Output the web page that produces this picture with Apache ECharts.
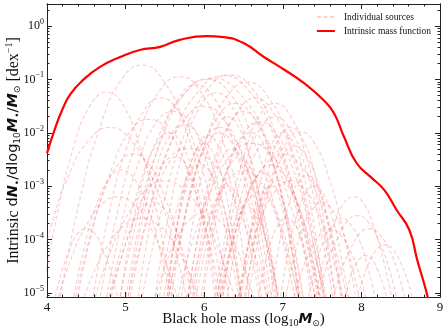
<!DOCTYPE html>
<html>
<head>
<meta charset="utf-8">
<script src="https://cdn.jsdelivr.net/npm/echarts@6/dist/echarts.min.js"></script>
<style>
  html, body { margin: 0; padding: 0; background: #fff; }
  #chart { width: 448px; height: 331px; }
</style>
</head>
<body>
<div id="chart"></div>
<script>
// intrinsic mass function, x = log10 M, y = log10 of dN/dlogM
var massX = [4.0, 4.1, 4.2, 4.3, 4.46, 4.67, 4.93, 5.18, 5.44, 5.69, 6.03, 6.25, 6.5, 6.76, 7.02, 7.27, 7.52, 7.65, 7.78, 7.94, 8.12, 8.29, 8.45, 8.61, 8.71, 8.82, 8.86];
var massLog = [-2.38, -1.93, -1.55, -1.27, -1.01, -0.77, -0.58, -0.45, -0.39, -0.26, -0.19, -0.21, -0.32, -0.58, -0.82, -1.07, -1.39, -1.63, -2.08, -2.57, -2.83, -3.07, -3.45, -3.82, -4.38, -4.94, -5.2];

// individual sources (x and log10 y per curve)
var srcX = [
  [3.91, 4.13, 4.34, 4.55, 4.76, 4.97, 5.18, 5.40, 5.61],
  [4.14, 4.41, 4.68, 4.94, 5.21, 5.48, 5.75, 6.01, 6.28],
  [4.65, 4.91, 5.17, 5.43, 5.69, 5.95, 6.21, 6.47, 6.73],
  [4.90, 5.18, 5.47, 5.75, 6.04, 6.33, 6.61, 6.90, 7.18],
  [5.00, 5.31, 5.62, 5.94, 6.25, 6.56, 6.88, 7.19, 7.50],
  [5.18, 5.47, 5.75, 6.04, 6.33, 6.62, 6.91, 7.19, 7.48],
  [5.52, 5.78, 6.03, 6.29, 6.55, 6.81, 7.07, 7.32, 7.58],
  [4.98, 5.21, 5.44, 5.67, 5.90, 6.13, 6.36, 6.59, 6.82],
  [4.75, 5.09, 5.42, 5.76, 6.10, 6.44, 6.78, 7.11, 7.45],
  [3.79, 4.04, 4.29, 4.55, 4.80, 5.05, 5.31, 5.56, 5.81],
  [4.36, 4.59, 4.83, 5.06, 5.30, 5.54, 5.77, 6.01, 6.24],
  [4.73, 4.95, 5.17, 5.38, 5.60, 5.82, 6.03, 6.25, 6.47],
  [5.03, 5.27, 5.51, 5.76, 6.00, 6.24, 6.49, 6.73, 6.98],
  [5.52, 5.74, 5.96, 6.18, 6.40, 6.62, 6.84, 7.06, 7.28],
  [5.87, 6.08, 6.29, 6.50, 6.71, 6.92, 7.13, 7.34, 7.55],
  [6.49, 6.67, 6.86, 7.04, 7.22, 7.40, 7.58, 7.77, 7.95],
  [6.14, 6.33, 6.52, 6.71, 6.90, 7.09, 7.28, 7.47, 7.66],
  [5.63, 5.87, 6.12, 6.36, 6.60, 6.84, 7.08, 7.33, 7.57],
  [4.76, 5.02, 5.28, 5.54, 5.80, 6.06, 6.32, 6.58, 6.84],
  [5.56, 5.72, 5.88, 6.04, 6.20, 6.36, 6.52, 6.68, 6.84],
  [6.15, 6.36, 6.57, 6.79, 7.00, 7.21, 7.43, 7.64, 7.85],
  [5.77, 5.96, 6.14, 6.32, 6.50, 6.68, 6.86, 7.04, 7.23],
  [6.19, 6.36, 6.52, 6.69, 6.85, 7.01, 7.18, 7.34, 7.51],
  [6.40, 6.58, 6.75, 6.93, 7.10, 7.27, 7.45, 7.62, 7.80],
  [4.57, 4.80, 5.04, 5.27, 5.50, 5.73, 5.97, 6.20, 6.43],
  [6.18, 6.31, 6.44, 6.57, 6.70, 6.83, 6.96, 7.09, 7.22],
  [6.83, 6.94, 7.06, 7.18, 7.30, 7.42, 7.54, 7.66, 7.77],
  [5.85, 5.96, 6.07, 6.19, 6.30, 6.41, 6.53, 6.64, 6.75],
  [7.01, 7.13, 7.25, 7.38, 7.50, 7.62, 7.75, 7.87, 8.00],
  [7.42, 7.55, 7.69, 7.82, 7.95, 8.08, 8.21, 8.35, 8.48],
  [7.61, 7.73, 7.86, 7.98, 8.10, 8.22, 8.35, 8.47, 8.59],
  [7.92, 8.01, 8.11, 8.20, 8.30, 8.40, 8.49, 8.59, 8.68],
  [7.39, 7.52, 7.65, 7.77, 7.90, 8.03, 8.15, 8.28, 8.41],
  [5.96, 6.12, 6.28, 6.44, 6.60, 6.76, 6.92, 7.08, 7.24],
  [5.77, 5.95, 6.13, 6.32, 6.50, 6.68, 6.87, 7.05, 7.23],
  [6.22, 6.36, 6.51, 6.65, 6.80, 6.95, 7.09, 7.24, 7.38],
  [5.46, 5.65, 5.83, 6.02, 6.20, 6.38, 6.57, 6.75, 6.94],
  [6.45, 6.59, 6.73, 6.86, 7.00, 7.14, 7.27, 7.41, 7.55],
  [5.94, 6.07, 6.20, 6.32, 6.45, 6.58, 6.70, 6.83, 6.96],
  [5.41, 5.54, 5.68, 5.81, 5.95, 6.09, 6.22, 6.36, 6.49],
  [4.10, 4.30, 4.50, 4.70, 4.90, 5.10, 5.30, 5.50, 5.70],
  [4.42, 4.61, 4.81, 5.00, 5.20, 5.40, 5.59, 5.79, 5.98],
  [4.07, 4.18, 4.29, 4.39, 4.50, 4.61, 4.71, 4.82, 4.93],
  [7.11, 7.23, 7.36, 7.48, 7.60, 7.72, 7.85, 7.97, 8.09],
  [5.33, 5.50, 5.66, 5.83, 6.00, 6.17, 6.34, 6.50, 6.67],
  [4.56, 4.78, 5.00, 5.23, 5.45, 5.67, 5.90, 6.12, 6.34],
  [5.76, 5.98, 6.20, 6.43, 6.65, 6.87, 7.10, 7.32, 7.54],
  [5.35, 5.55, 5.75, 5.95, 6.15, 6.35, 6.55, 6.75, 6.95],
  [5.01, 5.19, 5.38, 5.56, 5.75, 5.94, 6.12, 6.31, 6.49],
  [6.41, 6.54, 6.68, 6.81, 6.95, 7.09, 7.22, 7.36, 7.49],
  [6.54, 6.69, 6.84, 7.00, 7.15, 7.30, 7.46, 7.61, 7.76],
  [5.83, 5.96, 6.09, 6.22, 6.35, 6.48, 6.61, 6.74, 6.87],
  [5.14, 5.27, 5.40, 5.52, 5.65, 5.78, 5.90, 6.03, 6.16],
  [6.27, 6.39, 6.51, 6.63, 6.75, 6.87, 6.99, 7.11, 7.23],
  [6.95, 7.06, 7.17, 7.29, 7.40, 7.51, 7.63, 7.74, 7.86],
  [4.33, 4.53, 4.72, 4.91, 5.10, 5.29, 5.48, 5.68, 5.87],
  [4.31, 4.47, 4.63, 4.79, 4.95, 5.11, 5.27, 5.43, 5.60],
  [6.14, 6.24, 6.34, 6.45, 6.55, 6.65, 6.76, 6.86, 6.96],
  [7.29, 7.41, 7.52, 7.64, 7.75, 7.86, 7.98, 8.09, 8.21],
  [7.75, 7.83, 7.90, 7.98, 8.05, 8.13, 8.20, 8.28, 8.35],
  [5.51, 5.64, 5.78, 5.92, 6.05, 6.18, 6.32, 6.46, 6.59],
  [6.66, 6.76, 6.85, 6.95, 7.05, 7.15, 7.25, 7.34, 7.44],
  [4.78, 4.93, 5.07, 5.21, 5.35, 5.49, 5.63, 5.77, 5.92],
  [6.11, 6.31, 6.51, 6.70, 6.90, 7.10, 7.29, 7.49, 7.69],
  [5.69, 5.85, 6.00, 6.15, 6.30, 6.45, 6.60, 6.75, 6.91],
  [5.51, 5.63, 5.75, 5.88, 6.00, 6.12, 6.25, 6.37, 6.49],
  [6.51, 6.66, 6.81, 6.95, 7.10, 7.25, 7.40, 7.54, 7.69],
  [4.91, 5.07, 5.23, 5.39, 5.55, 5.71, 5.87, 6.03, 6.19],
  [6.43, 6.53, 6.64, 6.74, 6.85, 6.96, 7.06, 7.17, 7.28]
];
var srcLog = [
  [-5.3, -3.52, -2.26, -1.49, -1.24, -1.49, -2.26, -3.52, -5.3],
  [-5.3, -3.30, -1.87, -1.02, -0.73, -1.02, -1.87, -3.30, -5.3],
  [-5.3, -3.40, -2.04, -1.22, -0.95, -1.22, -2.04, -3.40, -5.3],
  [-5.3, -3.42, -2.08, -1.27, -1.00, -1.27, -2.08, -3.42, -5.3],
  [-5.3, -3.39, -2.02, -1.20, -0.93, -1.20, -2.02, -3.39, -5.3],
  [-5.3, -3.38, -2.02, -1.19, -0.92, -1.19, -2.02, -3.38, -5.3],
  [-5.3, -3.44, -2.11, -1.32, -1.05, -1.32, -2.11, -3.44, -5.3],
  [-5.3, -3.46, -2.15, -1.36, -1.10, -1.36, -2.15, -3.46, -5.3],
  [-5.3, -3.41, -2.06, -1.25, -0.98, -1.25, -2.06, -3.41, -5.3],
  [-5.3, -3.81, -2.75, -2.11, -1.90, -2.11, -2.75, -3.81, -5.3],
  [-5.3, -3.75, -2.64, -1.97, -1.75, -1.97, -2.64, -3.75, -5.3],
  [-5.3, -3.68, -2.53, -1.83, -1.60, -1.83, -2.53, -3.68, -5.3],
  [-5.3, -3.64, -2.45, -1.74, -1.50, -1.74, -2.45, -3.64, -5.3],
  [-5.3, -3.62, -2.41, -1.69, -1.45, -1.69, -2.41, -3.62, -5.3],
  [-5.3, -3.77, -2.68, -2.02, -1.80, -2.02, -2.68, -3.77, -5.3],
  [-5.3, -3.85, -2.81, -2.19, -1.98, -2.19, -2.81, -3.85, -5.3],
  [-5.3, -3.73, -2.60, -1.93, -1.70, -1.93, -2.60, -3.73, -5.3],
  [-5.3, -3.94, -2.98, -2.39, -2.20, -2.39, -2.98, -3.94, -5.3],
  [-5.3, -3.99, -3.05, -2.49, -2.30, -2.49, -3.05, -3.99, -5.3],
  [-5.3, -3.86, -2.83, -2.21, -2.00, -2.21, -2.83, -3.86, -5.3],
  [-5.3, -4.03, -3.13, -2.58, -2.40, -2.58, -3.13, -4.03, -5.3],
  [-5.3, -4.16, -3.35, -2.86, -2.70, -2.86, -3.35, -4.16, -5.3],
  [-5.3, -4.12, -3.28, -2.77, -2.60, -2.77, -3.28, -4.12, -5.3],
  [-5.3, -4.25, -3.50, -3.05, -2.90, -3.05, -3.50, -4.25, -5.3],
  [-5.3, -4.25, -3.50, -3.05, -2.90, -3.05, -3.50, -4.25, -5.3],
  [-5.3, -4.34, -3.65, -3.24, -3.10, -3.24, -3.65, -4.34, -5.3],
  [-5.3, -4.21, -3.43, -2.96, -2.80, -2.96, -3.43, -4.21, -5.3],
  [-5.3, -4.29, -3.58, -3.14, -3.00, -3.14, -3.58, -4.29, -5.3],
  [-5.3, -4.43, -3.80, -3.43, -3.30, -3.43, -3.80, -4.43, -5.3],
  [-5.3, -4.53, -3.99, -3.66, -3.55, -3.66, -3.99, -4.53, -5.3],
  [-5.3, -4.64, -4.18, -3.89, -3.80, -3.89, -4.18, -4.64, -5.3],
  [-5.3, -4.78, -4.40, -4.18, -4.10, -4.18, -4.40, -4.78, -5.3],
  [-5.3, -4.38, -3.73, -3.33, -3.20, -3.33, -3.73, -4.38, -5.3],
  [-5.3, -3.86, -2.83, -2.21, -2.00, -2.21, -2.83, -3.86, -5.3],
  [-5.3, -3.68, -2.53, -1.83, -1.60, -1.83, -2.53, -3.68, -5.3],
  [-5.3, -3.94, -2.98, -2.39, -2.20, -2.39, -2.98, -3.94, -5.3],
  [-5.3, -3.81, -2.75, -2.11, -1.90, -2.11, -2.75, -3.81, -5.3],
  [-5.3, -3.86, -2.83, -2.21, -2.00, -2.21, -2.83, -3.86, -5.3],
  [-5.3, -4.05, -3.16, -2.63, -2.45, -2.63, -3.16, -4.05, -5.3],
  [-5.3, -4.12, -3.28, -2.77, -2.60, -2.77, -3.28, -4.12, -5.3],
  [-5.3, -4.38, -3.73, -3.33, -3.20, -3.33, -3.73, -4.38, -5.3],
  [-5.3, -4.56, -4.03, -3.71, -3.60, -3.71, -4.03, -4.56, -5.3],
  [-5.3, -4.64, -4.18, -3.89, -3.80, -3.89, -4.18, -4.64, -5.3],
  [-5.3, -4.64, -4.18, -3.89, -3.80, -3.89, -4.18, -4.64, -5.3],
  [-5.3, -4.51, -3.95, -3.61, -3.50, -3.61, -3.95, -4.51, -5.3],
  [-5.3, -3.57, -2.34, -1.60, -1.35, -1.60, -2.34, -3.57, -5.3],
  [-5.3, -3.57, -2.34, -1.60, -1.35, -1.60, -2.34, -3.57, -5.3],
  [-5.3, -3.53, -2.26, -1.50, -1.25, -1.50, -2.26, -3.53, -5.3],
  [-5.3, -3.79, -2.71, -2.07, -1.85, -2.07, -2.71, -3.79, -5.3],
  [-5.3, -4.25, -3.50, -3.05, -2.90, -3.05, -3.50, -4.25, -5.3],
  [-5.3, -3.97, -3.01, -2.44, -2.25, -2.44, -3.01, -3.97, -5.3],
  [-5.3, -3.99, -3.05, -2.49, -2.30, -2.49, -3.05, -3.99, -5.3],
  [-5.3, -4.05, -3.16, -2.63, -2.45, -2.63, -3.16, -4.05, -5.3],
  [-5.3, -4.18, -3.39, -2.91, -2.75, -2.91, -3.39, -4.18, -5.3],
  [-5.3, -4.29, -3.58, -3.14, -3.00, -3.14, -3.58, -4.29, -5.3],
  [-5.3, -4.03, -3.13, -2.58, -2.40, -2.58, -3.13, -4.03, -5.3],
  [-5.3, -4.16, -3.35, -2.86, -2.70, -2.86, -3.35, -4.16, -5.3],
  [-5.3, -4.47, -3.88, -3.52, -3.40, -3.52, -3.88, -4.47, -5.3],
  [-5.3, -4.56, -4.03, -3.71, -3.60, -3.71, -4.03, -4.56, -5.3],
  [-5.3, -4.86, -4.55, -4.36, -4.30, -4.36, -4.55, -4.86, -5.3],
  [-5.3, -3.88, -2.86, -2.25, -2.05, -2.25, -2.86, -3.88, -5.3],
  [-5.3, -4.56, -4.03, -3.71, -3.60, -3.71, -4.03, -4.56, -5.3],
  [-5.3, -4.43, -3.80, -3.43, -3.30, -3.43, -3.80, -4.43, -5.3],
  [-5.3, -3.62, -2.41, -1.69, -1.45, -1.69, -2.41, -3.62, -5.3],
  [-5.3, -3.73, -2.60, -1.93, -1.70, -1.93, -2.60, -3.73, -5.3],
  [-5.3, -3.94, -2.98, -2.39, -2.20, -2.39, -2.98, -3.94, -5.3],
  [-5.3, -3.81, -2.75, -2.11, -1.90, -2.11, -2.75, -3.81, -5.3],
  [-5.3, -3.86, -2.83, -2.21, -2.00, -2.21, -2.83, -3.86, -5.3],
  [-5.3, -4.29, -3.58, -3.14, -3.00, -3.14, -3.58, -4.29, -5.3]
];

var xTicks = [4, 5, 6, 7, 8, 9];
var yDecades = [-5, -4, -3, -2, -1, 0];

var yMin = -5.075, yMax = 0.412;

// minor ticks of the log axis (2..9 within each decade)
var yMinor = [];
for (var d = -6; d <= 0; d++) {
  for (var k = 2; k <= 9; k++) {
    var v = d + Math.log10(k);
    if (v > yMin && v < yMax) yMinor.push(v);
  }
}

var serif = 'Liberation Serif';
var axisColor = '#222';

function yLabel(v) {
  var n = Math.round(v);
  return '{b|10}{s|' + (n < 0 ? '\u2212' + (-n) : n) + '}';
}

var myChart = echarts.init(document.getElementById('chart'));

var series = [];
for (var i = 0; i < srcX.length; i++) {
  var pts = [];
  for (var j = 0; j < srcX[i].length; j++) pts.push([srcX[i][j], srcLog[i][j]]);
  series.push({
    name: 'Individual sources',
    type: 'line',
    data: pts,
    smooth: true,
    symbol: 'none',
    silent: true,
    lineStyle: { color: 'rgba(240,80,80,0.27)', width: 1.2, type: [4, 2.5] },
    itemStyle: { color: 'rgba(240,80,80,0.45)' },
    z: 2
  });
}
var massPts = [];
for (var m = 0; m < massX.length; m++) massPts.push([massX[m], massLog[m]]);
series.push({
  name: 'Intrinsic mass function',
  type: 'line',
  data: massPts,
  smooth: true,
  symbol: 'none',
  lineStyle: { color: '#ff0000', width: 2.2 },
  itemStyle: { color: '#ff0000' },
  z: 5
});

function yAx(pos, values, len, labels) {
  return {
    type: 'value',
    position: pos,
    min: yMin,
    max: yMax,
    axisLine: { show: true, onZero: false, lineStyle: { color: axisColor, width: 1 } },
    axisTick: { show: true, inside: true, length: len, customValues: values, lineStyle: { color: axisColor } },
    axisLabel: labels ? {
      show: true,
      customValues: values,
      margin: 3,
      formatter: yLabel,
      rich: {
        b: { fontFamily: serif, fontSize: 12, color: '#111' },
        s: { fontFamily: serif, fontSize: 8, color: '#111', padding: [0, 0, 8, 0] }
      }
    } : { show: false },
    splitLine: { show: false }
  };
}

var yAxes = [
  yAx('left', yDecades, 5, true),
  yAx('left', yMinor, 2.5, false),
  yAx('right', yDecades, 5, false),
  yAx('right', yMinor, 2.5, false)
];
yAxes[0].name = '{t|Intrinsic }{m|d}{mb|N}{sub|\u2022}{m|/dlog}{sub|10}{mb|M}{sub|\u2022}{m|/}{mb|M}{sub|\u2299}{t| [dex}{ts|\u22121}{t|]}';
yAxes[0].nameLocation = 'middle';
yAxes[0].nameRotate = 90;
yAxes[0].nameGap = 24;
yAxes[0].nameMoveOverlap = false;
yAxes[0].nameTextStyle = {
  rich: {
    t: { fontFamily: serif, fontSize: 16, color: '#111' },
    ts: { fontFamily: serif, fontSize: 10, color: '#111', padding: [0, 0, 9, 0] },
    m: { fontFamily: 'DejaVu Sans', fontSize: 14.5, color: '#111' },
    mb: { fontFamily: 'DejaVu Sans', fontSize: 14.5, fontWeight: 'bold', fontStyle: 'italic', color: '#111' },
    sub: { fontFamily: 'DejaVu Sans', fontSize: 9, color: '#111', padding: [8, 0, 0, 0] }
  }
};

function xAx(pos, labels) {
  return {
    type: 'value',
    position: pos,
    min: 4,
    max: 9,
    interval: 1,
    axisLine: { show: true, onZero: false, lineStyle: { color: axisColor } },
    axisTick: { show: true, inside: true, length: 5, lineStyle: { color: axisColor } },
    minorTick: { show: true, splitNumber: 5, length: 2.5, lineStyle: { color: axisColor } },
    axisLabel: labels ? {
      margin: 4,
      fontFamily: serif,
      fontSize: 13,
      color: '#111',
      customValues: xTicks
    } : { show: false },
    splitLine: { show: false }
  };
}

var xAxes = [xAx('bottom', true), xAx('top', false)];
xAxes[0].name = '{t|Black hole mass (log}{tsub|10}{mb|M}{sub|\u2299}{t|)}';
xAxes[0].nameLocation = 'middle';
xAxes[0].nameGap = 14;
xAxes[0].nameMoveOverlap = false;
xAxes[0].nameTextStyle = {
  rich: {
    t: { fontFamily: serif, fontSize: 15, color: '#111' },
    tsub: { fontFamily: serif, fontSize: 10, color: '#111', padding: [7, 0, 0, 0] },
    mb: { fontFamily: 'DejaVu Sans', fontSize: 14, fontWeight: 'bold', fontStyle: 'italic', color: '#111' },
    sub: { fontFamily: 'DejaVu Sans', fontSize: 9, color: '#111', padding: [8, 0, 0, 0] }
  }
};

var option = {
  animation: false,
  backgroundColor: '#fff',
  grid: { left: 47, right: 8, top: 4, bottom: 34, containLabel: false, outerBoundsMode: 'none' },
  legend: {
    top: 7,
    right: 12,
    orient: 'vertical',
    itemWidth: 18,
    itemHeight: 8,
    itemGap: 4,
    itemStyle: { opacity: 0 },
    data: ['Individual sources', 'Intrinsic mass function'],
    textStyle: { fontFamily: serif, fontSize: 9.5, color: '#111', padding: [0, 0, 0, 4] }
  },
  xAxis: xAxes,
  yAxis: yAxes,
  series: series
};

myChart.setOption(option);
</script>
</body>
</html>
